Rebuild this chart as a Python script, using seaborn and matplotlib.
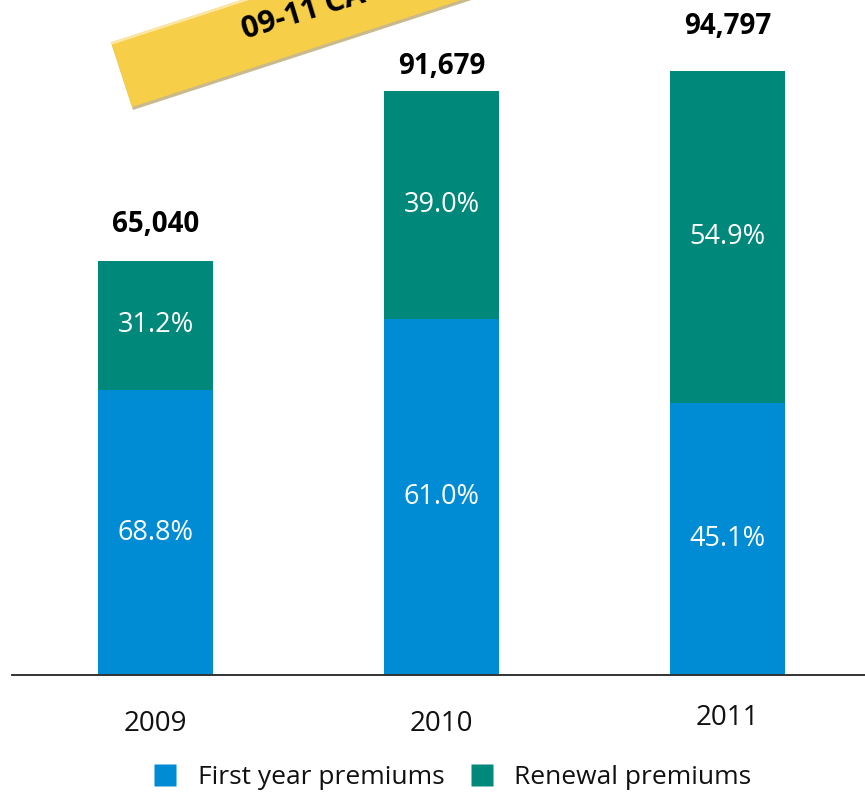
import matplotlib
matplotlib.use("Agg")
import matplotlib.pyplot as plt
from matplotlib.patches import Polygon
from matplotlib.lines import Line2D
import numpy as np
import pandas as pd
import seaborn as sns

# Premium income by year (totals) and the split between first-year and renewal
years = ["2009", "2010", "2011"]
totals = [65040, 91679, 94797]
first_year_pct = [68.8, 61.0, 45.1]
renewal_pct = [31.2, 39.0, 54.9]
series_names = ["First year premiums", "Renewal premiums"]
banner_text = "09-11 CAGR: 20.7%"

# vertical gap (pixels) between each bar top and its total label
total_label_gap = [36, 25, 45]

BLUE = "#008CD4"
TEAL = "#00887A"
YELLOW = "#F7CE48"

sns.set_style("white")
plt.rcParams["font.family"] = ["Open Sans", "DejaVu Sans"]

W, H = 865, 793
fig = plt.figure(figsize=(W / 100, H / 100), dpi=100)
ax = fig.add_axes([12 / W, 1 - 675 / H, 1 - 12 / W, 675 / H])

first_year = [t * p / 100 for t, p in zip(totals, first_year_pct)]
df = pd.DataFrame({"year": years, "total": totals, "first": first_year})

# full stack in renewal colour, first-year share drawn over it from the base
sns.barplot(data=df, x="year", y="total", order=years, color=TEAL,
            width=0.40, saturation=1, linewidth=0, ax=ax)
sns.barplot(data=df, x="year", y="first", order=years, color=BLUE,
            width=0.40, saturation=1, linewidth=0, ax=ax)

ax.set_xlim(-0.502, 2.481)
ax.set_ylim(0, 106000)
ax.set_xlabel("")
ax.set_ylabel("")
ax.set_yticks([])
for s in ["top", "right", "left"]:
    ax.spines[s].set_visible(False)
ax.spines["bottom"].set_color("#333333")
ax.spines["bottom"].set_linewidth(1.4)
ax.tick_params(axis="x", length=0, pad=25, labelsize=20, labelcolor="#111111")
xt = ax.get_xticklabels()
for lab in xt:
    lab.set_fontweight("normal")

# segment labels
for i, (t, f, pf, pr) in enumerate(zip(totals, first_year, first_year_pct, renewal_pct)):
    ax.text(i, f / 2, f"{pf:.1f}%", ha="center", va="center", color="white",
            fontsize=19.5, fontweight="normal")
    ax.text(i, f + (t - f) / 2, f"{pr:.1f}%", ha="center", va="center",
            color="white", fontsize=19.5, fontweight="normal")
    ax.annotate(f"{t:,}", (i, t), xytext=(0, total_label_gap[i]),
                textcoords="offset pixels", ha="center", va="center",
                fontsize=20, fontweight="bold", color="black")

# rotated ribbon in the upper left, built in figure pixel space
ang = np.deg2rad(18)
u = np.array([np.cos(ang), np.sin(ang)])
v = np.array([-np.sin(ang), np.cos(ang)])
p0 = np.array([132.0, H - 107.0])
L, T = 700.0, 68.0
ribbon = np.array([p0, p0 + L * u, p0 + L * u + T * v, p0 + T * v])
shadow = ribbon + np.array([1.0, -3.0])
highlight = np.array([p0 + T * v, p0 + T * v + L * u,
                      p0 + T * v + L * u - 2.5 * v, p0 + T * v - 2.5 * v])
fig.patches.append(Polygon(shadow, closed=True, facecolor="#C9B98C",
                           edgecolor="none", transform=None, zorder=5))
fig.patches.append(Polygon(ribbon, closed=True, facecolor=YELLOW,
                           edgecolor="none", transform=None, zorder=6))
fig.patches.append(Polygon(highlight, closed=True, facecolor="#FBE6A6",
                           edgecolor="none", transform=None, zorder=7))
fig.text(243 / W, 1 - 31 / H, banner_text, rotation=17, rotation_mode="anchor",
         ha="left", va="center", fontsize=22, fontweight="bold", color="black",
         zorder=8)

# legend below the axis
handles = [Line2D([], [], marker="s", linestyle="none", markersize=16,
                  markerfacecolor=c, markeredgecolor="none")
           for c in (BLUE, TEAL)]
leg = fig.legend(handles, series_names, loc="center",
                 bbox_to_anchor=(453 / W, 1 - 778 / H), ncol=2, frameon=False,
                 fontsize=19, handlelength=0.8, handletextpad=0.85,
                 columnspacing=1.0, borderpad=0, borderaxespad=0)
for t in leg.get_texts():
    t.set_fontweight("normal")
    t.set_color("#111111")

fig.canvas.draw()
# the last year's label sits slightly higher under its bar
xt[2].set_y(xt[2].get_position()[1] + 6 / 675)

fig.savefig("out.png", dpi=100)
